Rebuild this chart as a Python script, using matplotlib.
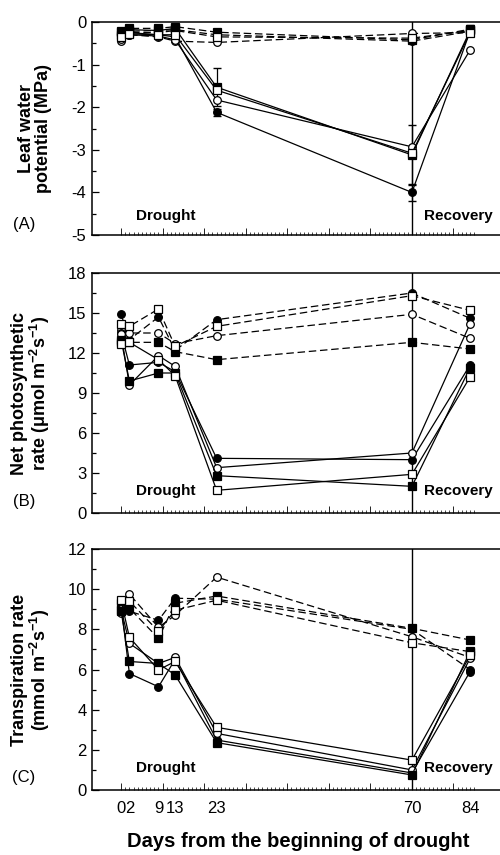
import matplotlib
matplotlib.use('Agg')
import matplotlib.pyplot as plt
from matplotlib.ticker import MultipleLocator, FixedLocator, NullFormatter

plt.rcParams['font.family'] = ['Liberation Sans', 'DejaVu Sans']
plt.rcParams['axes.unicode_minus'] = False
plt.rcParams['mathtext.default'] = 'regular'

days = [0, 2, 9, 13, 23, 70, 84]
day_labels = ['0', '2', '9', '13', '23', '70', '84']

# (A) leaf water potential, MPa -- control (dashed) and drought (solid)
lwp_ctrl_fcircle = [-0.25, -0.22, -0.2, -0.18, -0.3, -0.45, -0.22]
lwp_ctrl_ocircle = [-0.45, -0.3, -0.35, -0.45, -0.48, -0.27, -0.25]
lwp_ctrl_fsquare = [-0.23, -0.15, -0.15, -0.11, -0.24, -0.42, -0.17]
lwp_ctrl_osquare = [-0.3, -0.25, -0.25, -0.2, -0.35, -0.38, -0.2]
lwp_drt_fcircle = [-0.28, -0.25, -0.3, -0.35, -2.12, -4.0, -0.22]
lwp_drt_ocircle = [-0.4, -0.3, -0.33, -0.42, -1.83, -2.93, -0.66]
lwp_drt_fsquare = [-0.22, -0.18, -0.2, -0.15, -1.53, -3.12, -0.2]
lwp_drt_osquare = [-0.35, -0.28, -0.3, -0.3, -1.6, -3.08, -0.25]
lwp_drt_err = [0.05, 0.05, 0.1, 0.05, 0.45, 0.7, 0.12]
lwp_drt_err2 = [0.05, 0.05, 0.05, 0.05, 0.08, 0.2, 0.05]

# (B) net photosynthetic rate
pn_ctrl_fcircle = [14.9, 13.0, 14.7, 12.2, 14.5, 16.5, 14.6]
pn_ctrl_ocircle = [13.7, 13.5, 13.5, 12.7, 13.3, 14.9, 13.1]
pn_ctrl_fsquare = [12.8, 12.8, 12.8, 12.1, 11.5, 12.8, 12.3]
pn_ctrl_osquare = [14.2, 14.0, 15.3, 12.5, 14.0, 16.3, 15.2]
pn_drt_fcircle = [13.5, 11.1, 11.3, 10.6, 4.1, 4.0, 11.1]
pn_drt_ocircle = [13.4, 9.6, 11.8, 11.0, 3.4, 4.5, 14.2]
pn_drt_fsquare = [13.0, 9.9, 10.5, 10.5, 2.8, 2.0, 10.9]
pn_drt_osquare = [12.7, 12.8, 11.5, 10.3, 1.7, 2.9, 10.2]

# (C) transpiration rate
tr_ctrl_fcircle = [9.05, 8.9, 8.45, 9.55, 9.5, 8.0, 6.0]
tr_ctrl_ocircle = [8.8, 9.75, 8.1, 8.7, 10.6, 7.63, 6.6]
tr_ctrl_fsquare = [8.95, 9.05, 7.55, 9.3, 9.66, 8.05, 7.47]
tr_ctrl_osquare = [9.3, 9.4, 7.9, 8.95, 9.45, 7.33, 6.89]
tr_drt_fcircle = [9.2, 5.8, 5.14, 6.5, 2.49, 0.85, 5.9]
tr_drt_ocircle = [9.0, 7.3, 6.3, 6.6, 2.82, 1.0, 6.55]
tr_drt_fsquare = [8.9, 6.4, 6.3, 5.73, 2.36, 0.75, 6.9]
tr_drt_osquare = [9.45, 7.6, 5.98, 6.4, 3.12, 1.49, 6.7]

fig = plt.figure(figsize=(5, 8.55), dpi=100)
axA = fig.add_axes([0.184, 0.7251, 0.816, 0.2492])
axB = fig.add_axes([0.184, 0.4000, 0.816, 0.2807])
axC = fig.add_axes([0.184, 0.0760, 0.816, 0.2819])

def draw(ax, ctrl, drt):
    styles = [('o', 'k'), ('o', 'w'), ('s', 'k'), ('s', 'w')]
    for vals, (m, fc) in zip(ctrl, styles):
        ax.plot(days, vals, color='k', lw=0.9, ls=(0, (6, 3)), marker=m,
                ms=5.5, mfc=fc, mec='k', mew=0.9, zorder=3)
    for vals, (m, fc) in zip(drt, styles):
        ax.plot(days, vals, color='k', lw=0.9, ls='-', marker=m,
                ms=5.5, mfc=fc, mec='k', mew=0.9, zorder=3)

draw(axA, [lwp_ctrl_fcircle, lwp_ctrl_ocircle, lwp_ctrl_fsquare, lwp_ctrl_osquare],
     [lwp_drt_fcircle, lwp_drt_ocircle, lwp_drt_fsquare, lwp_drt_osquare])
axA.errorbar(days, lwp_drt_fsquare, yerr=lwp_drt_err, fmt='none', ecolor='k',
             elinewidth=0.9, capsize=3, zorder=2)
axA.errorbar(days, lwp_drt_fcircle, yerr=lwp_drt_err2,
             fmt='none', ecolor='k', elinewidth=0.9, capsize=3, zorder=2)

draw(axB, [pn_ctrl_fcircle, pn_ctrl_ocircle, pn_ctrl_fsquare, pn_ctrl_osquare],
     [pn_drt_fcircle, pn_drt_ocircle, pn_drt_fsquare, pn_drt_osquare])
draw(axC, [tr_ctrl_fcircle, tr_ctrl_ocircle, tr_ctrl_fsquare, tr_ctrl_osquare],
     [tr_drt_fcircle, tr_drt_ocircle, tr_drt_fsquare, tr_drt_osquare])

panels = [(axA, -5, 0, 1, 0.5, 'Leaf water\npotential (MPa)', '(A)'),
          (axB, 0, 18, 3, 1.5, 'Net photosynthetic\nrate (\u03bcmol m$^{-2}$s$^{-1}$)', '(B)'),
          (axC, 0, 12, 2, 1, 'Transpiration rate\n(mmol m$^{-2}$s$^{-1}$)', '(C)')]

for ax, lo, hi, major, minor, ylab, letter in panels:
    ax.set_xlim(-7, 91.2)
    ax.set_ylim(lo, hi)
    ax.axvline(70, color='k', lw=1.0, zorder=1)
    ax.spines['right'].set_visible(False)
    for s in ['top', 'left', 'bottom']:
        ax.spines[s].set_linewidth(1.1)
    ax.yaxis.set_major_locator(MultipleLocator(major))
    ax.yaxis.set_minor_locator(MultipleLocator(minor))
    ax.xaxis.set_major_locator(FixedLocator(range(0, 81, 10)))
    ax.xaxis.set_minor_locator(FixedLocator(range(0, 86)))
    ax.xaxis.set_major_formatter(NullFormatter())
    ax.tick_params(axis='y', which='major', direction='in', length=5, width=0.9,
                   labelsize=12, pad=4)
    ax.tick_params(axis='y', which='minor', direction='in', length=3, width=0.9)
    ax.tick_params(axis='x', which='major', direction='in', length=5, width=0.6)
    ax.tick_params(axis='x', which='minor', direction='in', length=2.5, width=0.5)
    ax.set_ylabel(ylab, fontsize=13, fontweight='bold', linespacing=1.0)
    ax.yaxis.set_label_coords(-0.098, 0.5)
    ax.text(10.8, 0.09, 'Drought', transform=ax.get_xaxis_transform(),
            fontsize=11, fontweight='bold', ha='center', va='center')
    ax.text(72.8, 0.09, 'Recovery', transform=ax.get_xaxis_transform(),
            fontsize=11, fontweight='bold', ha='left', va='center')
    ax.text(-0.14, 0.05, letter, transform=ax.transAxes, fontsize=12,
            ha='right', va='center')

for d, lab in zip(days, day_labels):
    axC.text(d, -0.075, lab, transform=axC.get_xaxis_transform(), fontsize=12,
             ha='center', va='center')
fig.text(0.597, 0.016, 'Days from the beginning of drought', fontsize=14.5,
         fontweight='bold', ha='center', va='center')

fig.savefig('out.png', dpi=100)
